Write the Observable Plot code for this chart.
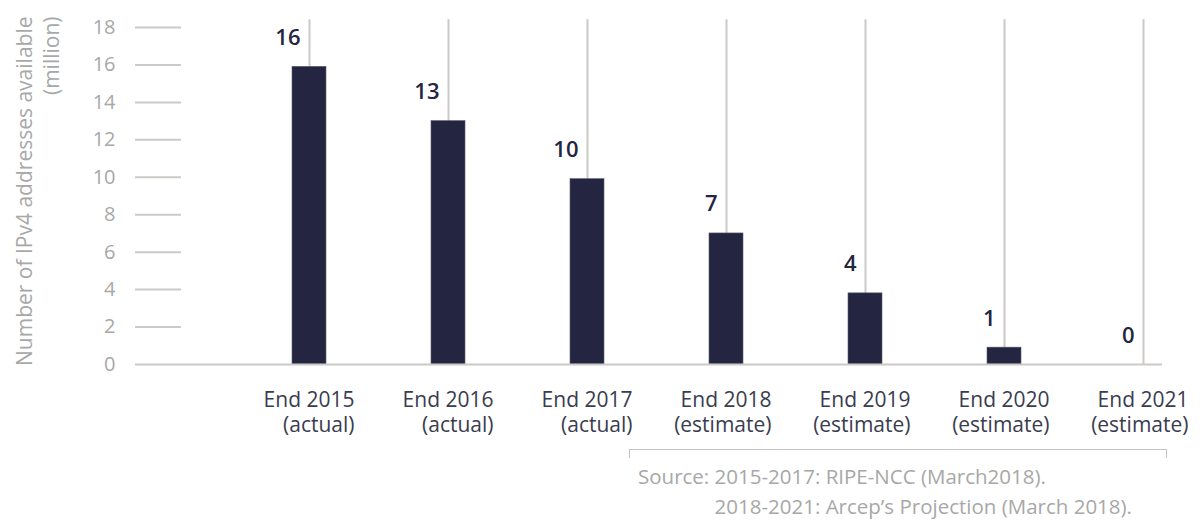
<!DOCTYPE html>
<html>
<head>
<meta charset="utf-8">
<script src="https://cdn.jsdelivr.net/npm/d3@7"></script>
<script src="https://cdn.jsdelivr.net/npm/@observablehq/plot@0.6"></script>
<style>
  html, body { margin: 0; padding: 0; background: #ffffff; }
  #wrap { position: relative; width: 1200px; height: 522px; font-family: "Open Sans", sans-serif; }
  #bracket { position: absolute; left: 629px; top: 449px; width: 538px; height: 9px;
             border: 1.5px solid #c4c4c4; border-bottom: none; box-sizing: border-box; }
  #source { position: absolute; left: 638px; top: 461px; font-size: 20.5px; line-height: 30px;
            color: #a8a8a8; white-space: pre; }
  #source .indent { visibility: hidden; }
</style>
</head>
<body>
<div id="wrap">
  <div id="chart"></div>
  <div id="bracket"></div>
  <div id="source"></div>
</div>
<script>
// ---- data ----
const years = ["End 2015", "End 2016", "End 2017", "End 2018", "End 2019", "End 2020", "End 2021"];
const statuses = ["(actual)", "(actual)", "(actual)", "(estimate)", "(estimate)", "(estimate)", "(estimate)"];
const values = [15.9, 13.0, 9.9, 7.0, 3.8, 0.9, 0];
const valueLabels = ["16", "13", "10", "7", "4", "1", "0"];
const yTicks = [0, 2, 4, 6, 8, 10, 12, 14, 16, 18];
const yTitle = "Number of IPv4 addresses available\n(million)";
const sourceLines = ["Source: 2015-2017: RIPE-NCC (March2018).", "2018-2021: Arcep\u2019s Projection (March 2018)."];

// ---- build ----
const data = years.map((y, i) => ({ cat: y, value: values[i], label: valueLabels[i], status: statuses[i] }));
const statusOf = new Map(years.map((y, i) => [y, statuses[i]]));
const ruleTop = 18.41;

const gridColor = "#ccc9c6";
const barColor = "#232541";

const chart = Plot.plot({
  width: 1200,
  height: 522,
  marginTop: 27,
  marginBottom: 158,
  marginLeft: 181,
  marginRight: 38,
  style: { fontFamily: "'Open Sans', sans-serif", background: "white", overflow: "visible" },
  x: { type: "band", domain: years, range: [290, 1161.6], paddingInner: 0.7564, paddingOuter: 0 },
  y: { domain: [0, 18] },
  marks: [
    Plot.ruleX(data, { x: "cat", y1: 0, y2: ruleTop, stroke: gridColor, strokeWidth: 2 }),
    Plot.barY(data, { x: "cat", y: "value", fill: barColor, stroke: "#5a5c70", strokeWidth: 0.6 }),
    Plot.ruleY([0], { stroke: gridColor, strokeWidth: 2 }),
    Plot.axisY(yTicks, { tickSize: 46, tickPadding: 20, stroke: gridColor, strokeWidth: 2, color: "#a8a8a8", fontSize: 20, label: null }),
    Plot.axisX({
      tickSize: 0, tickPadding: 24, textAnchor: "end", dx: 45,
      fontSize: 21, color: "#3a3c4f", lineHeight: 1.22, label: null,
      tickFormat: d => d + "\n" + statusOf.get(d)
    }),
    Plot.text(data, {
      x: "cat", y: "value", text: "label", textAnchor: "end", dx: -9, dy: -29,
      fontSize: 22, fontWeight: 600, fill: barColor
    }),
    Plot.text([yTitle], {
      text: d => d, frameAnchor: "top-left", rotate: -90, textAnchor: "end", lineAnchor: "top",
      dx: -169, dy: -11, fontSize: 21, fill: "#a8a8a8", lineHeight: 1.3
    })
  ]
});
document.getElementById("chart").appendChild(chart);

const src = document.getElementById("source");
src.innerHTML = "";
const l1 = document.createElement("div");
l1.textContent = sourceLines[0];
const l2 = document.createElement("div");
const ind = document.createElement("span");
ind.className = "indent";
ind.textContent = "Source: ";
l2.appendChild(ind);
l2.appendChild(document.createTextNode(sourceLines[1]));
src.appendChild(l1);
src.appendChild(l2);
</script>
</body>
</html>
